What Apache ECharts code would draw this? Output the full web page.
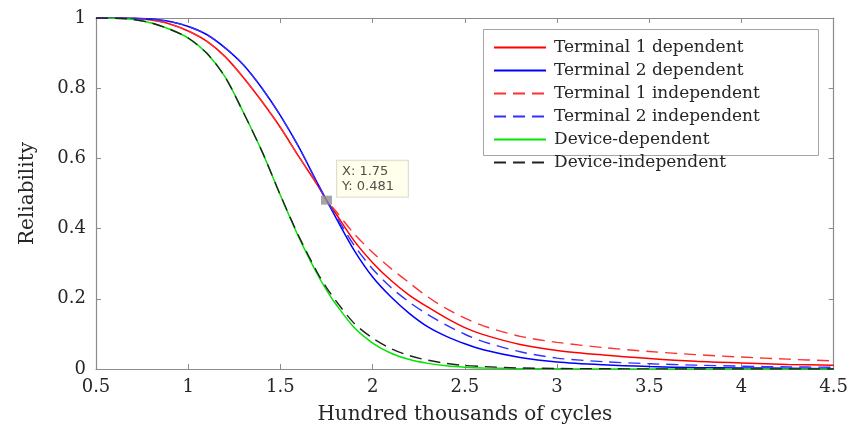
<!DOCTYPE html>
<html>
<head>
<meta charset="utf-8">
<script src="https://cdn.jsdelivr.net/npm/echarts@6/dist/echarts.min.js"></script>
<style>
  html, body { margin: 0; padding: 0; background: #fff; }
  #chart { width: 851px; height: 430px; }
</style>
</head>
<body>
<div id="chart"></div>
<script>
// ---- data ----
const xValues = [0.5, 0.6, 0.7, 0.8, 0.9, 1.0, 1.1, 1.2, 1.3, 1.4, 1.5, 1.6, 1.7, 1.75, 1.8, 1.9, 2.0, 2.1, 2.2, 2.3, 2.4, 2.5, 2.6, 2.8, 3.0, 3.25, 3.5, 3.75, 4.0, 4.25, 4.5];

const terminal1Dependent   = [1, 0.9998, 0.999, 0.994, 0.983, 0.963, 0.934, 0.89, 0.83, 0.762, 0.688, 0.605, 0.525, 0.481, 0.443, 0.365, 0.303, 0.252, 0.21, 0.176, 0.145, 0.118, 0.098, 0.07, 0.053, 0.04, 0.03, 0.022, 0.017, 0.013, 0.011];
const terminal2Dependent   = [1, 1, 0.9995, 0.997, 0.99, 0.976, 0.953, 0.915, 0.866, 0.8, 0.722, 0.632, 0.53, 0.481, 0.432, 0.338, 0.262, 0.205, 0.158, 0.12, 0.093, 0.072, 0.055, 0.033, 0.02, 0.012, 0.007, 0.004, 0.003, 0.002, 0.001];
const terminal1Independent = [1, 0.9998, 0.999, 0.994, 0.983, 0.963, 0.934, 0.89, 0.83, 0.762, 0.688, 0.605, 0.525, 0.481, 0.45, 0.385, 0.332, 0.286, 0.245, 0.205, 0.172, 0.145, 0.123, 0.093, 0.076, 0.061, 0.05, 0.041, 0.034, 0.028, 0.023];
const terminal2Independent = [1, 1, 0.9995, 0.997, 0.99, 0.976, 0.953, 0.915, 0.866, 0.8, 0.722, 0.632, 0.53, 0.481, 0.437, 0.352, 0.285, 0.232, 0.19, 0.155, 0.125, 0.099, 0.078, 0.049, 0.031, 0.021, 0.015, 0.011, 0.008, 0.006, 0.005];
const deviceDependent      = [1, 0.9995, 0.996, 0.986, 0.968, 0.943, 0.9, 0.832, 0.73, 0.62, 0.495, 0.375, 0.27, 0.225, 0.185, 0.118, 0.074, 0.045, 0.027, 0.016, 0.009, 0.005, 0.003, 0.001, 0.0005, 0, 0, 0, 0, 0, 0];
const deviceIndependent    = [1, 0.9995, 0.996, 0.986, 0.968, 0.943, 0.9, 0.832, 0.73, 0.62, 0.495, 0.378, 0.275, 0.232, 0.195, 0.13, 0.088, 0.058, 0.038, 0.025, 0.016, 0.01, 0.007, 0.003, 0.0015, 0.0007, 0.0003, 0, 0, 0, 0];

const seriesNames = ['Terminal 1 dependent', 'Terminal 2 dependent', 'Terminal 1 independent', 'Terminal 2 independent', 'Device-dependent', 'Device-independent'];

const xTickLabels = ['0.5', '1', '1.5', '2', '2.5', '3', '3.5', '4', '4.5'];
const yTickLabels = ['0', '0.2', '0.4', '0.6', '0.8', '1'];

const dataTipPoint = [1.75, 0.481];

// ---- chart ----
const pairs = ys => xValues.map((x, i) => [x, ys[i]]);
const serifFont = 'DejaVu Serif';
const axisGray = '#8c8c8c';
const textGray = '#262626';

const xMin = parseFloat(xTickLabels[0]);
const xMax = parseFloat(xTickLabels[xTickLabels.length - 1]);
const xStep = parseFloat(xTickLabels[1]) - xMin;
const yMin = parseFloat(yTickLabels[0]);
const yMax = parseFloat(yTickLabels[yTickLabels.length - 1]);
const yStep = parseFloat(yTickLabels[1]) - yMin;

function lineSeries(name, ys, color, dashed) {
  return {
    name: name,
    type: 'line',
    data: pairs(ys),
    xAxisIndex: 0,
    yAxisIndex: 0,
    symbol: 'none',
    showSymbol: false,
    smooth: 0.3,
    lineStyle: { color: color, width: dashed ? 1.4 : 1.5, type: dashed ? [12, 7] : 'solid' },
    itemStyle: { color: color },
    emphasis: { disabled: true },
    animation: false,
    z: dashed ? 3 : 2
  };
}

const chart = echarts.init(document.getElementById('chart'), null, { renderer: 'canvas' });

const baseX = {
  type: 'value', min: xMin, max: xMax, interval: xStep,
  splitLine: { show: false },
  axisLine: { show: true, onZero: false, lineStyle: { color: axisGray, width: 1.2 } },
  axisTick: { show: true, inside: true, length: 5, lineStyle: { color: axisGray } }
};
const baseY = {
  type: 'value', min: yMin, max: yMax, interval: yStep,
  splitLine: { show: false },
  axisLine: { show: true, onZero: false, lineStyle: { color: axisGray, width: 1.2 } },
  axisTick: { show: true, inside: true, length: 5, lineStyle: { color: axisGray } }
};

chart.setOption({
  animation: false,
  backgroundColor: '#ffffff',
  grid: { left: 96, right: 15, top: 18, bottom: 50 },
  xAxis: [
    Object.assign({}, baseX, {
      position: 'bottom',
      name: 'Hundred thousands of cycles',
      nameLocation: 'middle',
      nameGap: 36,
      nameTextStyle: { fontFamily: serifFont, fontSize: 20, color: textGray },
      axisLabel: {
        margin: 9, fontFamily: serifFont, fontSize: 18, color: textGray,
        formatter: v => xTickLabels.find(t => Math.abs(parseFloat(t) - v) < 1e-9) || ''
      }
    }),
    Object.assign({}, baseX, { position: 'top', axisLabel: { show: false } })
  ],
  yAxis: [
    Object.assign({}, baseY, {
      position: 'left',
      name: 'Reliability',
      nameLocation: 'middle',
      nameGap: 58,
      nameTextStyle: { fontFamily: serifFont, fontSize: 20, color: textGray },
      axisLabel: {
        margin: 10, fontFamily: serifFont, fontSize: 18, color: textGray,
        formatter: v => yTickLabels.find(t => Math.abs(parseFloat(t) - v) < 1e-9) || ''
      }
    }),
    Object.assign({}, baseY, { position: 'right', axisLabel: { show: false } })
  ],
  graphic: [{
    type: 'rect',
    left: 483, top: 29,
    shape: { width: 335, height: 126 },
    style: { fill: '#ffffff', stroke: '#a6a6a6', lineWidth: 1 },
    z: 10, silent: true
  }],
  legend: {
    show: true,
    data: seriesNames,
    orient: 'vertical',
    left: 488, top: 34,
    itemWidth: 52, itemHeight: 14, itemGap: 6,
    itemStyle: { opacity: 0 },
    textStyle: { fontFamily: serifFont, fontSize: 17, color: textGray, padding: [0, 0, 0, 3] },
    selectedMode: false,
    z: 11
  },
  series: [
    lineSeries(seriesNames[0], terminal1Dependent, '#ff0000', false),
    lineSeries(seriesNames[1], terminal2Dependent, '#0000ff', false),
    lineSeries(seriesNames[2], terminal1Independent, '#ff3030', true),
    lineSeries(seriesNames[3], terminal2Independent, '#3030ff', true),
    lineSeries(seriesNames[4], deviceDependent, '#00e600', false),
    lineSeries(seriesNames[5], deviceIndependent, '#222222', true),
    {
      name: 'datatip',
      type: 'scatter',
      xAxisIndex: 0, yAxisIndex: 0,
      data: [dataTipPoint],
      symbol: 'rect',
      symbolSize: [11, 9],
      itemStyle: { color: '#8f8f8f' },
      z: 6,
      label: {
        show: true,
        position: [16, -35],
        formatter: p => 'X: ' + p.value[0] + '\nY: ' + p.value[1],
        fontFamily: 'DejaVu Sans',
        fontSize: 13,
        lineHeight: 15,
        color: '#202020',
        backgroundColor: '#ffffe6',
        borderColor: '#d6d6c8',
        borderWidth: 1,
        padding: [3, 14, 3, 5],
        align: 'left',
        verticalAlign: 'top'
      },
      emphasis: { disabled: true },
      animation: false
    }
  ]
});
</script>
</body>
</html>
